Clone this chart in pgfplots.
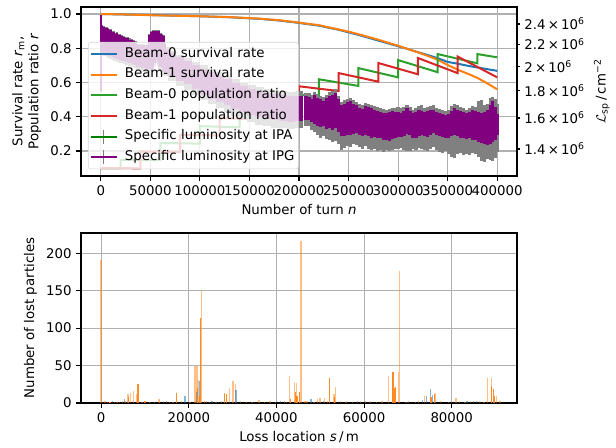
\documentclass[border=0pt]{standalone}
\usepackage{fontspec}
\setmainfont{DejaVu Sans}
\usepackage{pgfplots}
\pgfplotsset{compat=1.18}
\usepackage{pgfplotstable}

\definecolor{C0}{HTML}{1F77B4}
\definecolor{C1}{HTML}{FF7F0E}
\definecolor{C2}{HTML}{2CA02C}
\definecolor{C3}{HTML}{D62728}
\definecolor{mgreen}{HTML}{008000}
\definecolor{mpurple}{HTML}{800080}
\definecolor{mgray}{HTML}{808080}
\definecolor{gridc}{HTML}{B0B0B0}

% specific luminosity (in 1e6 cm^-2): purple band, grey error band
\pgfplotstableread{
n pu pl gu gl
0 2.490 1.800 2.495 1.790
1500 2.380 2.120 2.390 2.100
3000 2.370 2.110 2.380 2.090
4500 2.355 2.115 2.365 2.095
6000 2.362 2.100 2.372 2.080
7500 2.345 2.095 2.355 2.070
9000 2.335 2.090 2.345 2.065
10500 2.340 2.088 2.350 2.060
12000 2.315 2.080 2.325 2.055
13500 2.322 2.075 2.332 2.050
15000 2.300 2.070 2.312 2.045
16500 2.305 2.066 2.315 2.040
18000 2.285 2.060 2.295 2.035
19500 2.292 2.055 2.302 2.030
21000 2.275 2.050 2.285 2.025
23000 2.268 2.045 2.278 2.020
25000 2.262 2.040 2.272 2.015
27000 2.255 2.035 2.265 2.010
29000 2.245 2.030 2.256 2.005
31000 2.240 2.025 2.250 2.000
33000 2.228 2.020 2.240 1.995
35000 2.215 2.010 2.228 1.985
40000 2.190 1.995 2.205 1.965
45000 2.175 1.985 2.190 1.955
50000 2.190 1.980 2.205 1.950
52000 2.290 2.030 2.300 2.000
53500 2.318 2.060 2.330 2.030
55000 2.305 2.070 2.318 2.040
56000 2.330 2.080 2.340 2.050
57500 2.300 2.070 2.312 2.040
59000 2.290 2.060 2.302 2.030
60500 2.275 2.040 2.285 2.010
62000 2.200 1.990 2.215 1.960
66000 2.150 1.950 2.170 1.920
72000 2.120 1.920 2.140 1.880
80000 2.080 1.880 2.100 1.840
88000 2.050 1.850 2.075 1.805
96000 2.010 1.810 2.040 1.770
104000 1.980 1.770 2.010 1.730
112000 1.950 1.740 1.980 1.700
120000 1.920 1.715 1.950 1.670
128000 1.890 1.690 1.920 1.640
136000 1.860 1.665 1.890 1.615
144000 1.835 1.640 1.865 1.590
152000 1.815 1.620 1.845 1.570
160000 1.800 1.605 1.830 1.555
168000 1.785 1.595 1.815 1.545
176000 1.775 1.585 1.805 1.535
184000 1.768 1.580 1.800 1.530
192000 1.760 1.575 1.792 1.525
200000 1.762 1.580 1.795 1.535
207000 1.758 1.588 1.785 1.548
210000 1.755 1.585 1.780 1.545
213000 1.740 1.570 1.770 1.520
216000 1.768 1.560 1.790 1.505
219000 1.745 1.548 1.775 1.490
222000 1.735 1.540 1.760 1.470
225000 1.725 1.545 1.752 1.480
228000 1.742 1.528 1.768 1.460
231000 1.760 1.535 1.790 1.455
234000 1.770 1.522 1.800 1.440
237000 1.782 1.530 1.812 1.450
240000 1.735 1.505 1.760 1.430
243000 1.690 1.478 1.715 1.395
246000 1.700 1.482 1.728 1.405
249000 1.712 1.490 1.740 1.420
252000 1.720 1.485 1.745 1.410
255000 1.700 1.495 1.730 1.430
258000 1.690 1.498 1.715 1.425
261000 1.672 1.488 1.700 1.415
264000 1.665 1.480 1.690 1.400
267000 1.682 1.490 1.708 1.420
270000 1.675 1.480 1.700 1.398
273000 1.668 1.468 1.690 1.392
276000 1.660 1.472 1.688 1.400
279000 1.650 1.465 1.675 1.385
282000 1.645 1.468 1.672 1.392
285000 1.638 1.458 1.662 1.380
288000 1.632 1.455 1.660 1.395
291000 1.640 1.450 1.665 1.385
294000 1.648 1.462 1.672 1.392
297000 1.640 1.465 1.668 1.398
300000 1.645 1.472 1.675 1.400
303000 1.635 1.476 1.668 1.405
306000 1.648 1.480 1.680 1.395
309000 1.668 1.495 1.695 1.385
312000 1.650 1.485 1.680 1.390
315000 1.632 1.468 1.660 1.400
318000 1.640 1.470 1.668 1.392
321000 1.655 1.482 1.688 1.405
324000 1.650 1.488 1.690 1.398
327000 1.645 1.478 1.672 1.395
330000 1.648 1.476 1.678 1.390
333000 1.655 1.490 1.685 1.400
336000 1.656 1.498 1.690 1.410
339000 1.642 1.485 1.672 1.392
342000 1.633 1.478 1.662 1.380
345000 1.628 1.475 1.655 1.374
348000 1.622 1.470 1.652 1.385
351000 1.630 1.468 1.660 1.370
354000 1.650 1.480 1.688 1.355
357000 1.668 1.487 1.700 1.345
360000 1.655 1.478 1.690 1.370
363000 1.646 1.466 1.675 1.378
366000 1.640 1.470 1.668 1.365
369000 1.633 1.462 1.660 1.372
372000 1.640 1.466 1.670 1.362
375000 1.655 1.458 1.688 1.375
378000 1.650 1.455 1.680 1.368
381000 1.640 1.445 1.722 1.350
384000 1.633 1.435 1.732 1.330
387000 1.645 1.428 1.690 1.325
390000 1.656 1.424 1.700 1.340
393000 1.690 1.430 1.745 1.335
395500 1.720 1.440 1.755 1.330
398000 1.680 1.455 1.740 1.345
400000 1.625 1.490 1.700 1.380
}\lumi

% lost particles per location
\pgfplotstableread{
s n
2000 1
6200 8
8400 26
10000 2
17160 14
22000 20
22400 10
22650 113
28200 13
28600 12.5
43200 5
44300 15
44700 10
45200 15
52100 33
53200 8
66600 42
66800 20
67200 21
75300 8
76000 12
89150 23
89500 19
89800 10
}\lossdark
\pgfplotstableread{
s n
0 191
900 3
1500 1
3100 1
3600 1
4200 1
4800 2
5600 3
6100 12.5
6700 14
7400 16.5
8000 12
9300 1
11000 1
12200 1
13200 6
14200 2
15600 1
16400 1
17200 4
18300 2
20300 1
21400 50
21900 50
22250 31
22870 149
23600 2
24000 3
24700 1
26200 1
27400 2
29340 20
30090 29
30700 26
31800 2
33200 1
34400 1
36000 4
37300 1
38500 2
39800 1
41800 2
42300 1
43040 36
44100 28
44560 27
45640 216
46500 3
47000 2
48600 1
49300 5
49970 6.5
50900 6.5
51600 2
53100 12
53460 21
54600 2
55800 1
56000 2
57300 1
59200 2
60400 2
61500 2
62800 1
64100 3
65620 36
66530 42
67830 41
68060 176
69400 1
70200 2
71700 1
72400 2
73760 10
76260 14
77400 2
79200 1
80980 7
81800 3
83000 1
84300 2
86300 2
87400 1
88190 34
89100 34
90240 9
91000 2
}\losslight
\pgfplotstableread{
s n
2550 2
5400 6
11200 1
14900 3
19100 9
21700 15
22400 30
25300 2
26800 1
30800 17
35000 1
41000 2
47900 5
50700 3
58500 2
61200 1
69800 1
73300 4
74200 9
75100 19
75600 11
80000 1
83500 3
85000 3
85600 2
}\lossblue

\newcommand{\tsix}[1]{#1\,×\,10\textsuperscript{6}}

\pgfplotsset{
  mplaxis/.style={
    scale only axis, width=327pt,
    axis line style={line width=0.8pt},
    every tick/.style={line width=0.8pt, black},
    tick align=outside, major tick length=3.5pt,
    grid style={gridc, line width=0.8pt},
    scaled ticks=false,
  },
  mpl line legend/.style={legend image code/.code={%
    \draw[##1] (0pt,0pt) -- (20pt,0pt); \path (23pt,0pt);}},
  mpl err legend/.style={legend image code/.code={%
    \draw[mgray, line width=0.8pt] (10pt,-5.25pt) -- (10pt,5.25pt);
    \draw[##1] (0pt,0pt) -- (20pt,0pt); \path (23pt,0pt);}},
  band/.style 2 args={draw=none, forget plot,
    error bars/y dir=plus, error bars/y explicit,
    error bars/error mark=none,
    error bars/error bar style={draw=#1, line width=#2}},
}

\begin{document}
\begin{tikzpicture}
\path[use as bounding box] (0pt,0pt) rectangle (462pt,336pt);

\begin{axis}[mplaxis, at={(60.75pt,204pt)}, anchor=south west, height=126.75pt,
  xmin=-20000, xmax=420000, ymin=0.054, ymax=1.041,
  xtick={0,50000,100000,150000,200000,250000,300000,350000,400000},
  xticklabels={0,50000,100000,150000,200000,250000,300000,350000,400000},
  ytick={0.2,0.4,0.6,0.8,1.0},
  yticklabels={0.2,0.4,0.6,0.8,1.0},
  tick pos=left, grid=major,
  xlabel={Number of turn \textit{n}},
  ylabel={Survival rate \textit{r}\textsubscript{m},\\Population ratio \textit{r}},
  ylabel style={align=center}]
\addplot[C0, line width=1.5pt] coordinates {
  (0,1.0) (50000,0.994) (100000,0.987) (130000,0.981) (160000,0.972) (180000,0.962)
  (200000,0.948) (220000,0.932) (240000,0.908) (260000,0.878) (280000,0.845)
  (300000,0.812) (310000,0.795) (320000,0.777) (330000,0.760) (340000,0.742)
  (350000,0.720) (360000,0.710) (370000,0.698) (380000,0.688) (390000,0.678) (400000,0.668)};
\addplot[C1, line width=1.5pt] coordinates {
  (0,1.0) (20000,0.998) (50000,0.993) (100000,0.987) (130000,0.982) (160000,0.973)
  (180000,0.964) (200000,0.950) (210000,0.942) (220000,0.935) (230000,0.922)
  (240000,0.910) (250000,0.897) (260000,0.882) (270000,0.866) (280000,0.850)
  (290000,0.832) (300000,0.815) (310000,0.795) (320000,0.776) (330000,0.755)
  (340000,0.733) (350000,0.702) (360000,0.675) (370000,0.652) (380000,0.627)
  (390000,0.595) (400000,0.560)};
\addplot[C2, line width=1.5pt] coordinates {
  (0,0.1) (20000,0.1) (20000,0.148) (60000,0.146) (60000,0.247) (100000,0.243)
  (100000,0.345) (140000,0.338) (140000,0.443) (180000,0.432) (180000,0.540)
  (220000,0.517) (220000,0.619) (260000,0.580) (260000,0.684) (300000,0.630)
  (300000,0.731) (340000,0.660) (340000,0.766) (380000,0.712) (380000,0.766)
  (400000,0.747)};
\addplot[C3, line width=1.5pt] coordinates {
  (0,0.1) (40000,0.099) (40000,0.197) (80000,0.194) (80000,0.295) (120000,0.290)
  (120000,0.392) (160000,0.385) (160000,0.490) (200000,0.478) (200000,0.578)
  (240000,0.550) (240000,0.655) (280000,0.605) (280000,0.714) (320000,0.648)
  (320000,0.743) (360000,0.655) (360000,0.752) (400000,0.630)};
\end{axis}

\begin{axis}[mplaxis, at={(60.75pt,204pt)}, anchor=south west, height=126.75pt,
  xmin=-20000, xmax=420000, ymode=log, ymin=1.246, ymax=2.583,
  axis x line=none, axis y line*=right,
  major tick length=2pt, minor tick length=0pt,
  ytick={1.4,1.6,1.8,2,2.2,2.4},
  yticklabels={\tsix{1.4},\tsix{1.6},\tsix{1.8},\tsix{2},\tsix{2.2},\tsix{2.4}},
  ylabel={$\mathcal{L}$\textsubscript{sp}\,/\,cm\textsuperscript{−2}},
  legend cell align=left,
  legend style={at={(0.016,0.793)}, anchor=north west, draw=black!16,
    fill=white, fill opacity=0.8, text opacity=1, rounded corners=2pt,
    inner xsep=1pt, inner ysep=1pt, row sep=0pt,
    nodes={inner sep=2pt, text height=8.2pt, text depth=3.3pt}},
  mpl line legend]
% grey: error bars, purple: IPG values
\addplot[restrict x to domain=0:35000, band={mgray}{1.6pt}]
  table[x=n, y=gl, y error expr=\thisrow{gu}-\thisrow{gl}] {\lumi};
\addplot[restrict x to domain=35001:206000, band={mgray}{6.2pt}]
  table[x=n, y=gl, y error expr=\thisrow{gu}-\thisrow{gl}] {\lumi};
\addplot[restrict x to domain=206001:400000, band={mgray}{2.4pt}]
  table[x=n, y=gl, y error expr=\thisrow{gu}-\thisrow{gl}] {\lumi};
\addplot[restrict x to domain=0:35000, band={mpurple}{1.6pt}]
  table[x=n, y=pl, y error expr=\thisrow{pu}-\thisrow{pl}] {\lumi};
\addplot[restrict x to domain=35001:206000, band={mpurple}{6.2pt}]
  table[x=n, y=pl, y error expr=\thisrow{pu}-\thisrow{pl}] {\lumi};
\addplot[restrict x to domain=206001:400000, band={mpurple}{2.4pt}]
  table[x=n, y=pl, y error expr=\thisrow{pu}-\thisrow{pl}] {\lumi};
\addlegendimage{C0, line width=1.5pt}
\addlegendentry{Beam-0 survival rate}
\addlegendimage{C1, line width=1.5pt}
\addlegendentry{Beam-1 survival rate}
\addlegendimage{C2, line width=1.5pt}
\addlegendentry{Beam-0 population ratio}
\addlegendimage{C3, line width=1.5pt}
\addlegendentry{Beam-1 population ratio}
\addlegendimage{mgreen, line width=1.5pt, mpl err legend}
\addlegendentry{Specific luminosity at IPA}
\addlegendimage{mpurple, line width=1.5pt, mpl err legend}
\addlegendentry{Specific luminosity at IPG}
\end{axis}

\begin{axis}[mplaxis, at={(60.75pt,33.75pt)}, anchor=south west, height=127.5pt,
  xmin=-4600, xmax=94900, ymin=0, ymax=227,
  xtick={0,20000,40000,60000,80000}, xticklabels={0,20000,40000,60000,80000},
  ytick={0,50,100,150,200}, yticklabels={0,50,100,150,200},
  tick pos=left, grid=major,
  xlabel={Loss location \textit{s}\,/\,m},
  ylabel={Number of lost particles}]
\addplot[ycomb, no markers, C1, opacity=0.5, line width=1pt] table[x=s, y=n] {\losslight};
\addplot[ycomb, no markers, C0, opacity=0.55, line width=1pt] table[x=s, y=n] {\lossblue};
\addplot[ycomb, no markers, C1, opacity=0.9, line width=1pt] table[x=s, y=n] {\lossdark};
\end{axis}
\end{tikzpicture}
\end{document}
